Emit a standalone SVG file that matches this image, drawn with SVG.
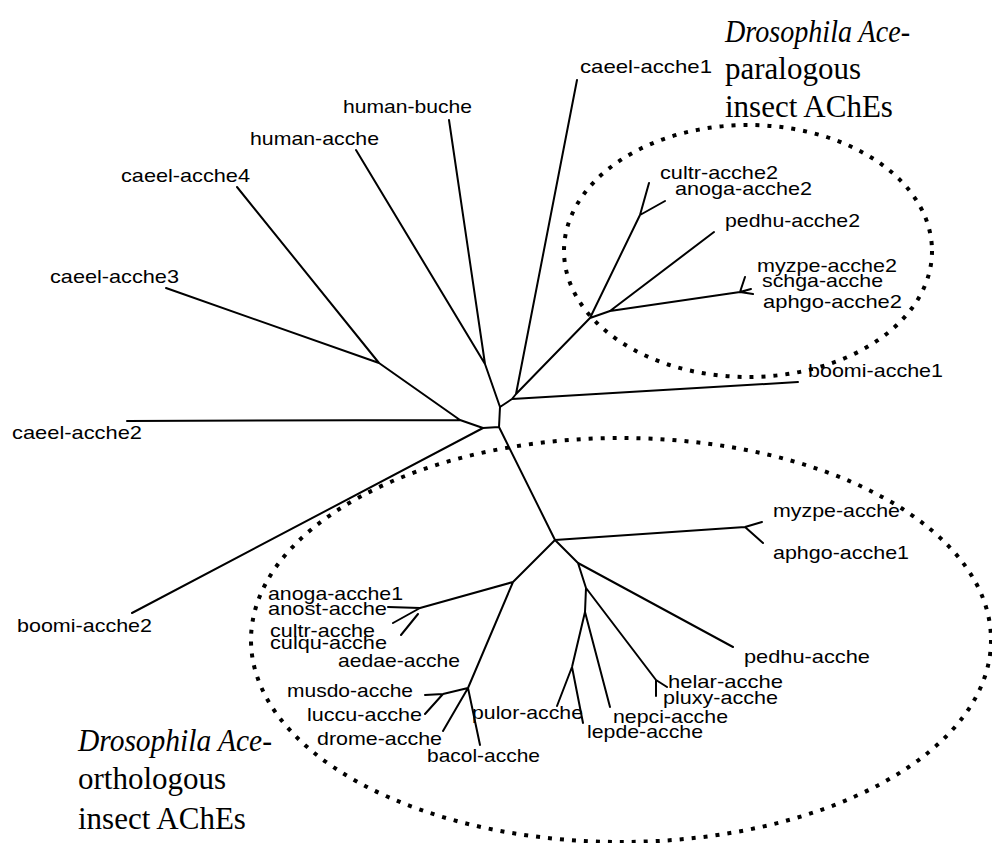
<svg xmlns="http://www.w3.org/2000/svg" width="992" height="843" viewBox="0 0 992 843">
<style>
.br{fill:none;stroke:#000;stroke-width:2;stroke-linejoin:round;stroke-linecap:round}
.lb{font-family:"Liberation Sans",Arial,sans-serif;font-size:19px;fill:#000}
.cap{font-family:"Liberation Serif","Times New Roman",serif;font-size:31px;fill:#000}
.it{font-style:italic}
.dot{fill:none;stroke:#000;stroke-width:4;stroke-dasharray:4 8}
</style>
<rect width="992" height="843" fill="#fff"/>
<g id="clusters">
<ellipse id="paralogous-ellipse" class="dot" cx="748" cy="251" rx="184" ry="126"/>
<ellipse id="orthologous-ellipse" class="dot" cx="621" cy="640" rx="370" ry="202"/>
</g>
<g id="connectors">
<path class="br" d="M500,407 L485,364 M485,364 L449,120 M485,364 L356,150
M500,407 L512,399 L516,394 M512,399 L798,382 M516,394 L577,80 M516,394 L590,318
M590,318 L610,311 L714,232 M610,311 L740,292 L745,277 M740,292 L751,289 M740,292 L753,294
M590,318 L640,215 L649,183 M640,215 L665,201
M500,407 L499,427 L483,428 L460,420 L127,421 M460,420 L379,363 L237,187 M379,363 L166,288
M483,428 L132,613 M499,427 L555,540
M555,540 L745,527 L762,522 M745,527 L763,543
M555,540 L513,582 L420,608 L388,607 M420,608 L393,623 M418,614 L401,635
M513,582 L468,688 L443,694 L425,695 M443,694 L425,714 M468,688 L443,731 M468,688 L480,745
M555,540 L578,563 L733,647 M578,563 L586,588 L656,680 L667,687 M656,680 L656,696
M586,588 L585,612 L610,707 M585,612 L572,667 L557,706 M572,667 L583,723"/>
</g>
<g id="n-caeel-acche1"><text class="lb" x="580" y="73" textLength="132" lengthAdjust="spacingAndGlyphs">caeel-acche1</text></g>
<g id="n-human-buche"><text class="lb" x="343" y="113" textLength="129" lengthAdjust="spacingAndGlyphs">human-buche</text></g>
<g id="n-human-acche"><text class="lb" x="250" y="145" textLength="129" lengthAdjust="spacingAndGlyphs">human-acche</text></g>
<g id="n-caeel-acche4"><text class="lb" x="121" y="182" textLength="129" lengthAdjust="spacingAndGlyphs">caeel-acche4</text></g>
<g id="n-caeel-acche3"><text class="lb" x="50" y="283" textLength="129" lengthAdjust="spacingAndGlyphs">caeel-acche3</text></g>
<g id="n-caeel-acche2"><text class="lb" x="12" y="439" textLength="130" lengthAdjust="spacingAndGlyphs">caeel-acche2</text></g>
<g id="n-boomi-acche2"><text class="lb" x="17" y="632" textLength="135" lengthAdjust="spacingAndGlyphs">boomi-acche2</text></g>
<g id="n-boomi-acche1"><text class="lb" x="808" y="377" textLength="135" lengthAdjust="spacingAndGlyphs">boomi-acche1</text></g>
<g id="n-cultr-acche2"><text class="lb" x="660" y="179" textLength="118" lengthAdjust="spacingAndGlyphs">cultr-acche2</text></g>
<g id="n-anoga-acche2"><text class="lb" x="675" y="195" textLength="137" lengthAdjust="spacingAndGlyphs">anoga-acche2</text></g>
<g id="n-pedhu-acche2"><text class="lb" x="725" y="227" textLength="135" lengthAdjust="spacingAndGlyphs">pedhu-acche2</text></g>
<g id="n-myzpe-acche2"><text class="lb" x="757" y="272" textLength="140" lengthAdjust="spacingAndGlyphs">myzpe-acche2</text></g>
<g id="n-schga-acche"><text class="lb" x="762" y="287" textLength="121" lengthAdjust="spacingAndGlyphs">schga-acche</text></g>
<g id="n-aphgo-acche2"><text class="lb" x="763" y="308" textLength="139" lengthAdjust="spacingAndGlyphs">aphgo-acche2</text></g>
<g id="n-myzpe-acche"><text class="lb" x="773" y="517" textLength="127" lengthAdjust="spacingAndGlyphs">myzpe-acche</text></g>
<g id="n-aphgo-acche1"><text class="lb" x="773" y="559" textLength="136" lengthAdjust="spacingAndGlyphs">aphgo-acche1</text></g>
<g id="n-pedhu-acche"><text class="lb" x="744" y="663" textLength="126" lengthAdjust="spacingAndGlyphs">pedhu-acche</text></g>
<g id="n-helar-acche"><text class="lb" x="668" y="688" textLength="115" lengthAdjust="spacingAndGlyphs">helar-acche</text></g>
<g id="n-pluxy-acche"><text class="lb" x="663" y="704" textLength="115" lengthAdjust="spacingAndGlyphs">pluxy-acche</text></g>
<g id="n-nepci-acche"><text class="lb" x="613" y="723" textLength="115" lengthAdjust="spacingAndGlyphs">nepci-acche</text></g>
<g id="n-lepde-acche"><text class="lb" x="587" y="738" textLength="116" lengthAdjust="spacingAndGlyphs">lepde-acche</text></g>
<g id="n-pulor-acche"><text class="lb" x="472" y="719" textLength="111" lengthAdjust="spacingAndGlyphs">pulor-acche</text></g>
<g id="n-bacol-acche"><text class="lb" x="427" y="762" textLength="113" lengthAdjust="spacingAndGlyphs">bacol-acche</text></g>
<g id="n-drome-acche"><text class="lb" x="317" y="745" textLength="125" lengthAdjust="spacingAndGlyphs">drome-acche</text></g>
<g id="n-luccu-acche"><text class="lb" x="307" y="721" textLength="115" lengthAdjust="spacingAndGlyphs">luccu-acche</text></g>
<g id="n-musdo-acche"><text class="lb" x="287" y="697" textLength="126" lengthAdjust="spacingAndGlyphs">musdo-acche</text></g>
<g id="n-aedae-acche"><text class="lb" x="338" y="667" textLength="122" lengthAdjust="spacingAndGlyphs">aedae-acche</text></g>
<g id="n-culqu-acche"><text class="lb" x="270" y="649" textLength="117" lengthAdjust="spacingAndGlyphs">culqu-acche</text></g>
<g id="n-cultr-acche"><text class="lb" x="270" y="637" textLength="105" lengthAdjust="spacingAndGlyphs">cultr-acche</text></g>
<g id="n-anost-acche"><text class="lb" x="268" y="615" textLength="119" lengthAdjust="spacingAndGlyphs">anost-acche</text></g>
<g id="n-anoga-acche1"><text class="lb" x="268" y="600" textLength="135" lengthAdjust="spacingAndGlyphs">anoga-acche1</text></g>
<g id="note-paralogous">
<text class="cap it" x="725" y="42" textLength="185" lengthAdjust="spacingAndGlyphs">Drosophila Ace-</text>
<text class="cap" x="725" y="79">paralogous</text>
<text class="cap" x="725" y="117">insect AChEs</text>
</g>
<g id="note-orthologous">
<text class="cap it" x="78" y="751" textLength="194" lengthAdjust="spacingAndGlyphs">Drosophila Ace-</text>
<text class="cap" x="78" y="789">orthologous</text>
<text class="cap" x="78" y="829">insect AChEs</text>
</g>
</svg>
